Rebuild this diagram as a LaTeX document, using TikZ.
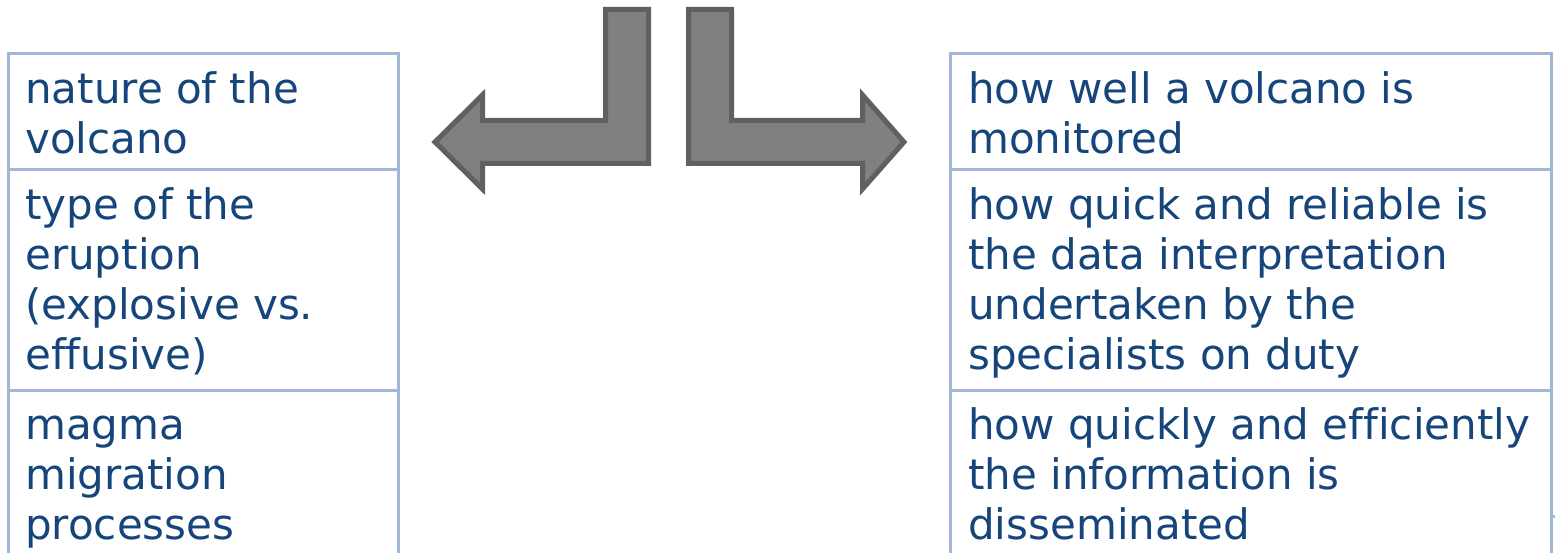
\documentclass[tikz,border=0pt]{standalone}
\usepackage{fontspec}
\setmainfont[Ligatures={NoCommon}]{DejaVu Sans}
\definecolor{celltext}{HTML}{15457A}
\definecolor{cellrule}{HTML}{A2B6D6}
\definecolor{arrowfill}{HTML}{808080}
\definecolor{arrowline}{HTML}{606060}
\tikzset{
  cellborder/.style={draw=cellrule, line width=3pt},
  celltxt/.style={anchor=north west, inner sep=0pt, align=left, text=celltext,
    font=\fontsize{42}{50}\selectfont},
  bentarrow/.style={fill=arrowfill, draw=arrowline, line width=5pt, line join=miter},
}
\begin{document}
\begin{tikzpicture}[x=1pt, y=-1pt]
  \useasboundingbox (0,0) rectangle (1555,553);
  \begin{scope}
    \clip (0,0) rectangle (1555,553);
    % left table
    \draw[cellborder] (8,54) rectangle (398,170);
    \draw[cellborder] (8,170) rectangle (398,390);
    \draw[cellborder] (8,390) rectangle (398,600);
    % right table
    \draw[cellborder] (950,54) rectangle (1551,170);
    \draw[cellborder] (950,170) rectangle (1551,390);
    \draw[cellborder] (950,390) rectangle (1551,600);
    \draw[cellborder] (1553,516) -- (1560,516);
  \end{scope}

  % cell texts (first baseline 49pt below the cell top)
  \node[celltxt] (l1) at (25,68) {\strut nature of the\\volcano};
  \node[celltxt] (l2) at (25,184) {\strut type of the\\eruption\\(explosive vs.\\effusive)};
  \node[celltxt] (l3) at (25,404) {\strut magma\\migration\\processes};
  \node[celltxt] (r1) at (968,68) {\strut how well a volcano is\\monitored};
  \node[celltxt] (r2) at (968,184) {\strut how quick and reliable is\\the data interpretation\\undertaken by the\\specialists on duty};
  \node[celltxt] (r3) at (968,404) {\strut how quickly and efficiently\\the information is\\disseminated};

  % bent arrows
  \draw[bentarrow] (605.5,9.5) -- (648.5,9.5) -- (648.5,163.5) -- (482.5,163.5)
    -- (482.5,189) -- (435,142) -- (482.5,95) -- (482.5,120.5) -- (605.5,120.5) -- cycle;
  \draw[bentarrow] (688.5,9.5) -- (731.5,9.5) -- (731.5,120.5) -- (862.5,120.5)
    -- (862.5,95) -- (904,142) -- (862.5,189) -- (862.5,163.5) -- (688.5,163.5) -- cycle;
\end{tikzpicture}
\end{document}
